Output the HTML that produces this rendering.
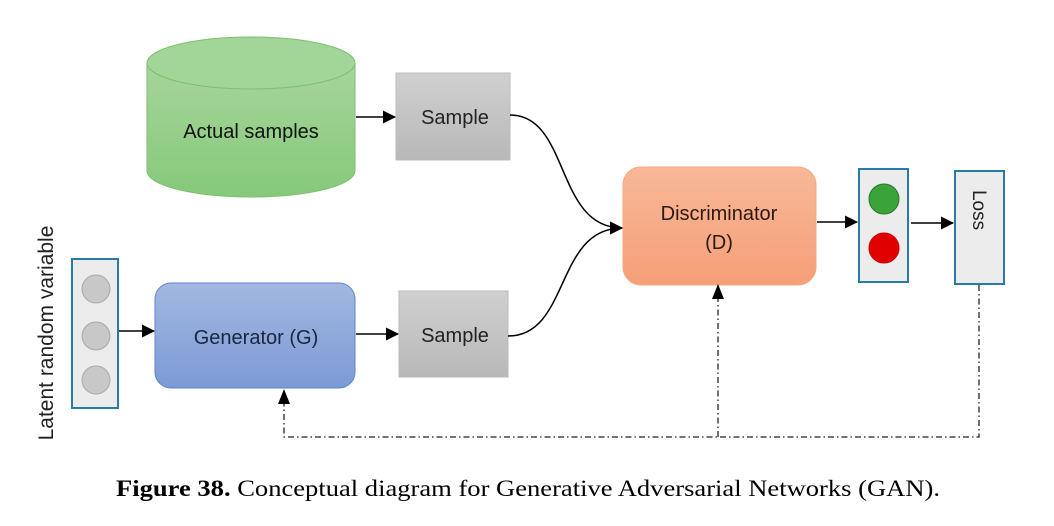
<!DOCTYPE html>
<html><head><meta charset="utf-8"><style>
body{margin:0;width:1054px;height:521px;background:#fff;overflow:hidden}
svg text{font-family:"Liberation Sans",sans-serif}
</style></head><body>
<svg width="1054" height="521" viewBox="0 0 1054 521" xmlns="http://www.w3.org/2000/svg">
<defs>
<linearGradient id="gg" x1="0" y1="0" x2="0" y2="1"><stop offset="0" stop-color="#a6d59b"/><stop offset="1" stop-color="#86c97a"/></linearGradient>
<linearGradient id="sg" x1="0" y1="0" x2="0" y2="1"><stop offset="0" stop-color="#d0d0d0"/><stop offset="1" stop-color="#b8b8b8"/></linearGradient>
<linearGradient id="bg" x1="0" y1="0" x2="0" y2="1"><stop offset="0" stop-color="#a3b8e0"/><stop offset="1" stop-color="#7c9ad6"/></linearGradient>
<linearGradient id="og" x1="0" y1="0" x2="0" y2="1"><stop offset="0" stop-color="#f9b898"/><stop offset="1" stop-color="#f59f78"/></linearGradient>
<marker id="ar" markerWidth="13" markerHeight="13" refX="12" refY="6.5" orient="auto" markerUnits="userSpaceOnUse"><path d="M0,0 L13,6.5 L0,13 z" fill="#000"/></marker>
</defs>
<path d="M147,63 L147,171 A104,26 0 0 0 355,171 L355,63" fill="url(#gg)" stroke="#7cbf6e"/>
<ellipse cx="251" cy="63" rx="104" ry="26" fill="#a2d598" stroke="#7cbf6e"/>
<text x="251" y="138" font-size="20" text-anchor="middle" fill="#111">Actual samples</text>
<rect x="396" y="73" width="114" height="87" fill="url(#sg)" stroke="#bbb"/>
<text x="455" y="124" font-size="20" text-anchor="middle" fill="#222">Sample</text>
<rect x="399" y="291" width="109" height="86" fill="url(#sg)" stroke="#bbb"/>
<text x="455" y="342" font-size="20" text-anchor="middle" fill="#222">Sample</text>
<rect x="72" y="259" width="46" height="149" fill="#ececec" stroke="#2a7aa8" stroke-width="2"/>
<circle cx="96" cy="289" r="14" fill="#c8c8c8" stroke="#aaa"/>
<circle cx="96" cy="336" r="14" fill="#c8c8c8" stroke="#aaa"/>
<circle cx="96" cy="380" r="14" fill="#c8c8c8" stroke="#aaa"/>
<text transform="translate(53,333) rotate(-90)" font-size="21" text-anchor="middle" fill="#222">Latent random variable</text>
<rect x="155" y="283" width="200" height="105" rx="16" fill="url(#bg)" stroke="#5b86cc"/>
<text x="256" y="344" font-size="20" text-anchor="middle" fill="#1a2540">Generator (G)</text>
<rect x="623" y="167" width="193" height="118" rx="18" fill="url(#og)" stroke="#f5a77d"/>
<text x="719" y="220" font-size="20" text-anchor="middle" fill="#2a1a10">Discriminator</text>
<text x="719" y="249" font-size="20" text-anchor="middle" fill="#2a1a10">(D)</text>
<rect x="859" y="169" width="49" height="113" fill="#ececec" stroke="#2a7aa8" stroke-width="2"/>
<circle cx="884" cy="199" r="15" fill="#3aa33a" stroke="#2a7a2a"/>
<circle cx="884" cy="248" r="15" fill="#e00000" stroke="#c00"/>
<rect x="955" y="171" width="49" height="113" fill="#ececec" stroke="#2a7aa8" stroke-width="2"/>
<text transform="translate(973,210) rotate(90)" font-size="19" text-anchor="middle" fill="#222">Loss</text>
<g stroke="#000" stroke-width="1.5" fill="none">
<line x1="356" y1="117" x2="395" y2="117" marker-end="url(#ar)"/>
<line x1="119" y1="331" x2="154" y2="331" marker-end="url(#ar)"/>
<line x1="356" y1="334" x2="398" y2="334" marker-end="url(#ar)"/>
<line x1="817" y1="222" x2="857" y2="222" marker-end="url(#ar)"/>
<line x1="911" y1="223" x2="953" y2="223" marker-end="url(#ar)"/>
<path d="M510,115 C570,115 555,228 622,228" marker-end="url(#ar)"/>
<path d="M508,336 C570,336 555,228 622,228" marker-end="url(#ar)"/>
</g>
<g stroke="#222" stroke-width="1.3" fill="none" stroke-dasharray="6,3,1.5,3">
<path d="M979,285 L979,437 L284,437 L284,392"/>
<line x1="718" y1="437" x2="718" y2="289"/>
</g>
<path d="M278,404 L284,389 L290,404 z" fill="#000"/>
<path d="M712,299 L718,284 L724,299 z" fill="#000"/>
<text x="116" y="496" font-size="23" textLength="824" lengthAdjust="spacingAndGlyphs" fill="#000" style="font-family:'Liberation Serif',serif"><tspan font-weight="bold">Figure 38.</tspan> Conceptual diagram for Generative Adversarial Networks (GAN).</text>
</svg>
</body></html>
